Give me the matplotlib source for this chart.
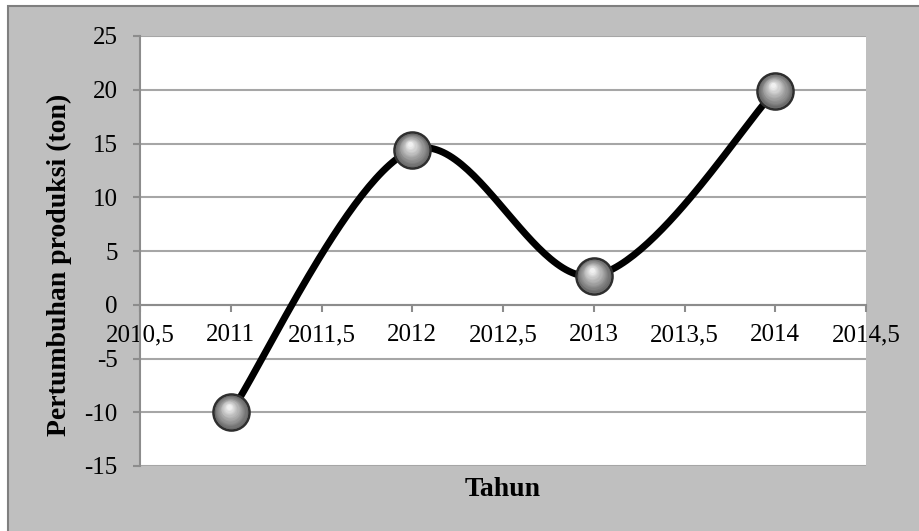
import numpy as np
import matplotlib.pyplot as plt
import matplotlib.transforms as mtransforms
from matplotlib.patches import Rectangle

tahun = [2011, 2012, 2013, 2014]
pertumbuhan = [-10.0, 14.4, 2.7, 19.9]
x_ticks = [2010.5, 2011, 2011.5, 2012, 2012.5, 2013, 2013.5, 2014, 2014.5]
x_labels = ['2010,5', '2011', '2011,5', '2012', '2012,5', '2013', '2013,5', '2014', '2014,5']
y_ticks = [-15, -10, -5, 0, 5, 10, 15, 20, 25]


def smooth(xs, ys, n=60):
    # bezier smoothing like spreadsheet "smoothed line"
    p = np.column_stack([xs, ys]).astype(float)
    out = []
    for i in range(len(p) - 1):
        p0 = p[i - 1] if i > 0 else p[i]
        p1, p2 = p[i], p[i + 1]
        p3 = p[i + 2] if i + 2 < len(p) else p[i + 1]
        c1 = p1 + (p2 - p0) / 6
        c2 = p2 - (p3 - p1) / 6
        t = np.linspace(0, 1, n)[:, None]
        seg = ((1 - t) ** 3) * p1 + 3 * ((1 - t) ** 2) * t * c1 + 3 * (1 - t) * t ** 2 * c2 + t ** 3 * p2
        out.append(seg)
    out = np.vstack(out)
    return out[:, 0], out[:, 1]


plt.rcParams['font.family'] = ['Liberation Serif', 'DejaVu Serif']

W, H = 919, 531
fig = plt.figure(figsize=(W / 100, H / 100), dpi=100)
fig.patch.set_facecolor('white')
bg = Rectangle((8 / W, -0.1), 1, (H - 6) / H + 0.1, transform=fig.transFigure,
               facecolor='#bfbfbf', edgecolor='#7f7f7f', linewidth=1.5, zorder=-10)
fig.add_artist(bg)

ax = fig.add_axes([140 / W, 65 / H, 726 / W, 430 / H])
ax.set_zorder(1)
ax.set_facecolor('white')
ax.set_xlim(2010.5, 2014.5)
ax.set_ylim(-15, 25)

for s in ['top', 'right']:
    ax.spines[s].set_visible(False)
ax.spines['left'].set_color('#8c8c8c')
ax.spines['left'].set_linewidth(1.5)
ax.spines['bottom'].set_position(('data', 0))
ax.spines['bottom'].set_color('#8c8c8c')
ax.spines['bottom'].set_linewidth(1.5)

ax.set_yticks(y_ticks)
ax.set_yticklabels([str(v) for v in y_ticks])
ax.set_xticks(x_ticks)
ax.set_xticklabels(x_labels)
ax.tick_params(axis='both', labelsize=18, color='#8c8c8c', width=1.5, length=5, direction='out')
ax.tick_params(axis='x', pad=9)
ax.tick_params(axis='y', pad=11)
ax.grid(axis='y', color='#a6a6a6', linewidth=1.5)
ax.set_axisbelow(True)

sx, sy = smooth(tahun, pertumbuhan)
ax.plot(sx, sy, color='black', linewidth=5, solid_capstyle='round', zorder=3)

# shaded sphere markers
ax.plot(tahun, pertumbuhan, 'o', markersize=26, markerfacecolor='#6e6e6e',
        markeredgecolor='#2e2e2e', markeredgewidth=1.8, zorder=4)
steps = 14
for k in range(steps):
    f = k / (steps - 1)
    size = 24 * (1 - 0.85 * f)
    c = 0.42 + 0.52 * f
    off = mtransforms.offset_copy(ax.transData, fig=fig, x=-1.5 * f, y=4.0 * f, units='points')
    ax.plot(tahun, pertumbuhan, 'o', markersize=size, markerfacecolor=(c, c, c),
            markeredgewidth=0, transform=off, zorder=5)

fig.text(503 / W, 1 - 490 / H, 'Tahun', fontsize=20, fontweight='bold', ha='center', va='center')
fig.text(59 / W, 1 - 265 / H, 'Pertumbuhan produksi (ton)', fontsize=20, fontweight='bold',
         rotation=90, ha='center', va='center')

fig.savefig('out.png', dpi=100)
